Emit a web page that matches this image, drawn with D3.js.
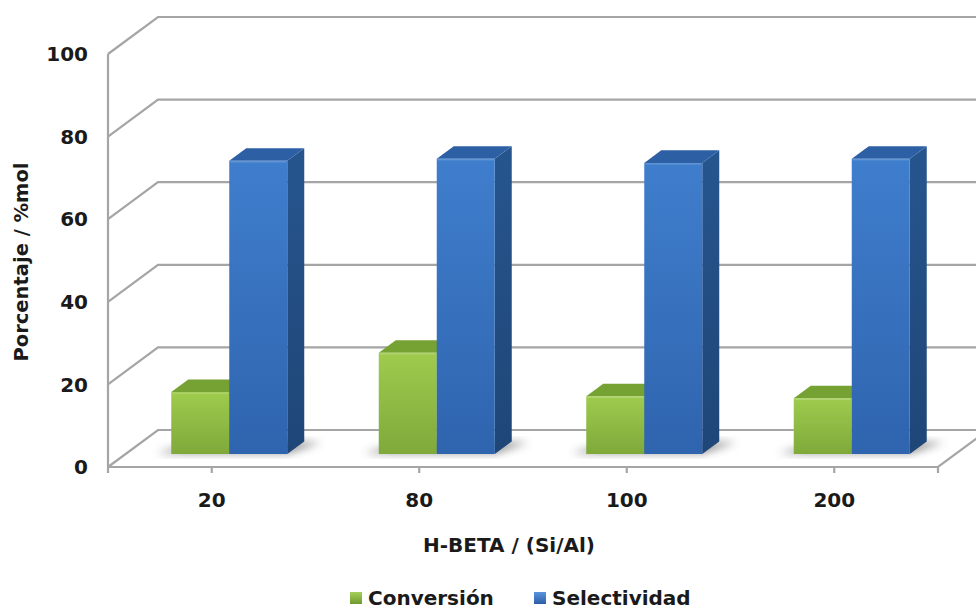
<!DOCTYPE html>
<html>
<head>
<meta charset="utf-8">
<script src="https://cdn.jsdelivr.net/npm/d3@7"></script>
<style>
  html, body { margin: 0; padding: 0; background: #ffffff; }
  svg { display: block; }
  text { font-family: "DejaVu Sans", sans-serif; font-weight: bold; fill: #1a1a1a; }
</style>
</head>
<body>
<svg id="chart" width="976" height="610"></svg>
<script>
// Catalyst series (H-BETA, Si/Al ratio) and measured percentages
const categories = ["20", "80", "100", "200"];
const seriesNames = ["Conversión", "Selectividad"];
const conversion = [15, 24.5, 14, 13.5];
const selectivity = [71, 71.5, 70.5, 71.5];
const yTicks = [0, 20, 40, 60, 80, 100];
const yTitle = "Porcentaje / %mol";
const xTitle = "H-BETA / (Si/Al)";

const W = 976, H = 610;
const svg = d3.select("#chart");

// Front plane of the 3D box and depth offset of the back wall
const x0 = 108, x1 = 938;
const DX = 50, DY = 37;
const zFront = 0.35, zBack = 0.69;   // depth slice occupied by the columns

const x = d3.scaleBand().domain(categories).range([x0, x1]).padding(0);
const y = d3.scaleLinear().domain([0, 100]).range([467, 54]);
const pairWidth = 116;
const xs = d3.scaleBand().domain(seriesNames).range([-pairWidth / 2, pairWidth / 2]).padding(0);

const proj = (px, v, z) => [px + z * DX, y(v) - z * DY];

const defs = svg.append("defs");
function vGrad(id, c1, c2) {
  const g = defs.append("linearGradient").attr("id", id)
    .attr("x1", 0).attr("y1", 0).attr("x2", 0).attr("y2", 1);
  g.append("stop").attr("offset", "0%").attr("stop-color", c1);
  g.append("stop").attr("offset", "100%").attr("stop-color", c2);
}
vGrad("gFront", "#9fcb4e", "#7fa93a");
vGrad("bFront", "#3f7ecd", "#2f64ae");
vGrad("gSide", "#6c952b", "#5d8324");
vGrad("bSide", "#26558e", "#1f4677");
vGrad("gLeg", "#a6d058", "#6f9a2e");
vGrad("bLeg", "#5a95dc", "#2b5ea6");
defs.append("filter").attr("id", "soft").attr("x", "-50%").attr("y", "-50%").attr("width", "200%").attr("height", "200%")
  .append("feGaussianBlur").attr("stdDeviation", 4);

const gridColor = "#a5a5a5";
const line = d3.line();

// Walls: left side wall diagonals + back wall gridlines
const grid = svg.append("g").attr("fill", "none").attr("stroke", gridColor).attr("stroke-width", 2.2);
yTicks.forEach(v => {
  const a = proj(x0, v, 0), b = proj(x0, v, 1), c = proj(x1, v, 1);
  grid.append("path").attr("d", line([a, b, [W + 20, c[1]]]));
});
// left vertical axis line
grid.append("path").attr("d", line([[x0, y(100)], [x0, y(0)]]));
// floor front edge and right edge
grid.append("path").attr("d", line([proj(x0, 0, 0), proj(x1, 0, 0), proj(x1, 0, 1)]));
// category ticks on the floor edge
const tickXs = [x0, ...categories.map(c => x(c) + x.bandwidth() / 2), x1];
tickXs.forEach(tx => {
  grid.append("path").attr("d", line([[tx, y(0)], [tx, y(0) + 6]]));
});

// Floor shadows beneath each pair of columns
const shadows = svg.append("g").attr("filter", "url(#soft)").attr("fill", "#4a4a4a").attr("opacity", 0.6);
categories.forEach(c => {
  const cx = x(c) + x.bandwidth() / 2;
  const l = cx - pairWidth / 2, r = cx + pairWidth / 2;
  const p = [
    proj(l - 16, 0, zFront + 0.02),
    proj(r, 0, zFront + 0.02),
    proj(r + 18, 0, zBack - 0.02),
    proj(l + 10, 0, zBack - 0.02)
  ];
  shadows.append("path").attr("d", line(p) + "Z");
});

// 3D columns
const series = [
  { name: seriesNames[0], values: conversion, front: "url(#gFront)", side: "url(#gSide)", top: "#76a133" },
  { name: seriesNames[1], values: selectivity, front: "url(#bFront)", side: "url(#bSide)", top: "#2d5fa4" }
];
const bars = svg.append("g");
categories.forEach((c, i) => {
  const cx = x(c) + x.bandwidth() / 2;
  series.forEach(s => {
    const v = s.values[i];
    const l = cx + xs(s.name), r = l + xs.bandwidth();
    const g = bars.append("g");
    // right side face
    g.append("path").attr("fill", s.side)
      .attr("d", line([proj(r, 0, zFront), proj(r, 0, zBack), proj(r, v, zBack), proj(r, v, zFront)]) + "Z");
    // top face
    g.append("path").attr("fill", s.top)
      .attr("d", line([proj(l, v, zFront), proj(r, v, zFront), proj(r, v, zBack), proj(l, v, zBack)]) + "Z");
    // front face
    g.append("path").attr("fill", s.front)
      .attr("d", line([proj(l, 0, zFront), proj(r, 0, zFront), proj(r, v, zFront), proj(l, v, zFront)]) + "Z");
    // soft highlight just under the front top edge
    const [hx1, hy] = proj(l + 1, v, zFront), [hx2] = proj(r - 1, v, zFront);
    g.append("path").attr("fill", "none").attr("stroke", "#ffffff").attr("stroke-opacity", 0.25).attr("stroke-width", 1)
      .attr("d", line([[hx1, hy + 1], [hx2, hy + 1]]));
  });
});

// Y tick labels
svg.append("g").selectAll("text").data(yTicks).join("text")
  .attr("x", 88).attr("y", d => y(d)).attr("dy", "0.36em")
  .attr("text-anchor", "end").attr("font-size", 20).text(d => d);

// Category labels
svg.append("g").selectAll("text").data(categories).join("text")
  .attr("x", d => x(d) + x.bandwidth() / 2).attr("y", 507)
  .attr("text-anchor", "middle").attr("font-size", 20).text(d => d);

// Axis titles
svg.append("text").attr("x", 509).attr("y", 552).attr("text-anchor", "middle")
  .attr("font-size", 20).text(xTitle);
svg.append("text").attr("transform", "translate(28,262) rotate(-90)")
  .attr("text-anchor", "middle").attr("font-size", 19.5).text(yTitle);

// Legend
const legend = [
  { name: seriesNames[0], fill: "url(#gLeg)", x: 350 },
  { name: seriesNames[1], fill: "url(#bLeg)", x: 534 }
];
const lg = svg.append("g");
legend.forEach(d => {
  lg.append("rect").attr("x", d.x).attr("y", 592).attr("width", 12).attr("height", 12).attr("fill", d.fill);
  lg.append("text").attr("x", d.x + 18).attr("y", 605).attr("font-size", 20).text(d.name);
});
</script>
</body>
</html>
